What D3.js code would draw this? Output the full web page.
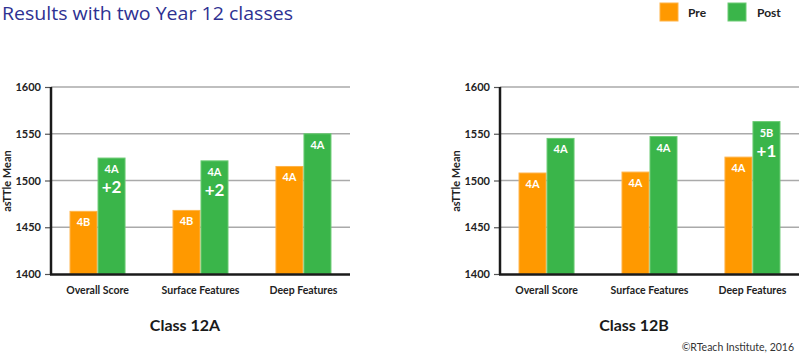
<!DOCTYPE html>
<html><head><meta charset="utf-8">
<script src="https://cdn.jsdelivr.net/npm/d3@7"></script>
<style>body{margin:0;background:#fff}svg{display:block}</style>
</head><body>
<svg id="c" width="800" height="358"></svg>
<script>
const categories = ["Overall Score", "Surface Features", "Deep Features"];
const seriesNames = ["Pre", "Post"];
const classNames = ["Class 12A", "Class 12B"];
const preA = [1467, 1468, 1515];
const postA = [1524, 1521, 1550];
const preB = [1508, 1509, 1525];
const postB = [1545, 1547, 1563];
const preLabelsA = ["4B", "4B", "4A"];
const postLabelsA = ["4A", "4A", "4A"];
const postGainA = ["+2", "+2", ""];
const preLabelsB = ["4A", "4A", "4A"];
const postLabelsB = ["4A", "4A", "5B"];
const postGainB = ["", "", "+1"];
const yTicks = [1400, 1450, 1500, 1550, 1600];

const colors = {Pre: "#FF9900", Post: "#3AB54A"};
const strokes = {Pre: "#FFB347", Post: "#6CCB74"};
const svg = d3.select("#c");
const font = "Lato, 'Open Sans', sans-serif";

svg.append("text").attr("x", 2).attr("y", 20)
  .attr("font-family", "'Open Sans', sans-serif").attr("font-size", 17.5)
  .attr("fill", "#2E3192").attr("textLength", 291).attr("lengthAdjust", "spacingAndGlyphs")
  .text("Results with two Year 12 classes");

// legend
const leg = svg.append("g");
[[660, 688], [728, 757]].forEach((p, i) => {
  leg.append("rect").attr("x", p[0]).attr("y", 3).attr("width", 18).attr("height", 18)
    .attr("fill", colors[seriesNames[i]]).attr("stroke", strokes[seriesNames[i]]).attr("stroke-width", 1);
  leg.append("text").attr("x", p[1]).attr("y", 16.5).attr("font-family", font)
    .attr("font-weight", 700).attr("font-size", 12).attr("fill", "#222").text(seriesNames[i]);
});

const panels = [
  {x0: 51, x1: 350, titleX: 185, pre: preA, post: postA, preL: preLabelsA, postL: postLabelsA, gain: postGainA, name: classNames[0]},
  {x0: 500, x1: 799, titleX: 634, pre: preB, post: postB, preL: preLabelsB, postL: postLabelsB, gain: postGainB, name: classNames[1]}
];

const y = d3.scaleLinear().domain([1400, 1600]).range([274, 87]);

panels.forEach(P => {
  const g = svg.append("g");
  const x0 = d3.scaleBand().domain(categories).range([P.x0, P.x1]).paddingInner(0.456).paddingOuter(0.18);
  const x1 = d3.scaleBand().domain(seriesNames).range([0, x0.bandwidth()]);

  // gridlines
  g.selectAll(".grid").data(yTicks.slice(1)).join("line")
    .attr("x1", P.x0).attr("x2", P.x1).attr("y1", d => y(d)).attr("y2", d => y(d))
    .attr("stroke", "#AAAAAA").attr("stroke-width", 1.5);

  // bars
  categories.forEach((c, i) => {
    const vals = [P.pre[i], P.post[i]];
    seriesNames.forEach((s, j) => {
      g.append("rect").attr("x", x0(c) + x1(s) + 0.5).attr("y", y(vals[j]))
        .attr("width", x1.bandwidth() - 1).attr("height", y(1400) - y(vals[j]))
        .attr("fill", colors[s]).attr("stroke", strokes[s]).attr("stroke-width", 1);
    });
    const cxPre = x0(c) + x1("Pre") + x1.bandwidth() / 2;
    const cxPost = x0(c) + x1("Post") + x1.bandwidth() / 2;
    g.append("text").attr("x", cxPre).attr("y", y(P.pre[i]) + 15).attr("text-anchor", "middle")
      .attr("font-family", font).attr("font-weight", 700).attr("font-size", 11).attr("fill", "#fff").text(P.preL[i]);
    g.append("text").attr("x", cxPost).attr("y", y(P.post[i]) + 15).attr("text-anchor", "middle")
      .attr("font-family", font).attr("font-weight", 700).attr("font-size", 11).attr("fill", "#fff").text(P.postL[i]);
    if (P.gain[i]) {
      g.append("text").attr("x", cxPost).attr("y", y(P.post[i]) + 35).attr("text-anchor", "middle")
        .attr("font-family", font).attr("font-weight", 700).attr("font-size", 17).attr("fill", "#fff").text(P.gain[i]);
    }
  });

  // y axis
  const ya = d3.axisLeft(y).tickValues(yTicks).tickSize(6).tickPadding(4).tickFormat(d3.format("d"));
  const yg = g.append("g").attr("transform", `translate(${P.x0},0)`).call(ya);
  yg.select(".domain").remove();
  yg.selectAll(".tick line").attr("stroke", "#555").attr("stroke-width", 1.2);
  yg.selectAll(".tick text").attr("font-family", font).attr("font-weight", 700).attr("font-size", 11).attr("fill", "#222");

  // axis lines
  g.append("line").attr("x1", P.x0).attr("x2", P.x0).attr("y1", 87).attr("y2", 275)
    .attr("stroke", "#1a1a1a").attr("stroke-width", 2.5);
  g.append("line").attr("x1", P.x0 - 1).attr("x2", P.x1).attr("y1", 274.5).attr("y2", 274.5)
    .attr("stroke", "#1a1a1a").attr("stroke-width", 2.5);

  // category labels
  g.selectAll(".cat").data(categories).join("text")
    .attr("x", d => x0(d) + x0.bandwidth() / 2).attr("y", 294).attr("text-anchor", "middle")
    .attr("font-family", font).attr("font-weight", 700).attr("font-size", 10.5).attr("fill", "#222").text(d => d);

  // y label
  g.append("text").attr("transform", `translate(${P.x0 - 40},181) rotate(-90)`).attr("text-anchor", "middle")
    .attr("font-family", font).attr("font-weight", 700).attr("font-size", 11).attr("fill", "#222").text("asTTle Mean");

  // class title
  g.append("text").attr("x", P.titleX).attr("y", 331).attr("text-anchor", "middle")
    .attr("font-family", font).attr("font-weight", 700).attr("font-size", 16).attr("fill", "#1a1a1a").text(P.name);
});

svg.append("text").attr("x", 794).attr("y", 351).attr("text-anchor", "end")
  .attr("font-family", font).attr("font-size", 10.5).attr("fill", "#333")
  .text("©RTeach Institute, 2016");
</script>
</body></html>
